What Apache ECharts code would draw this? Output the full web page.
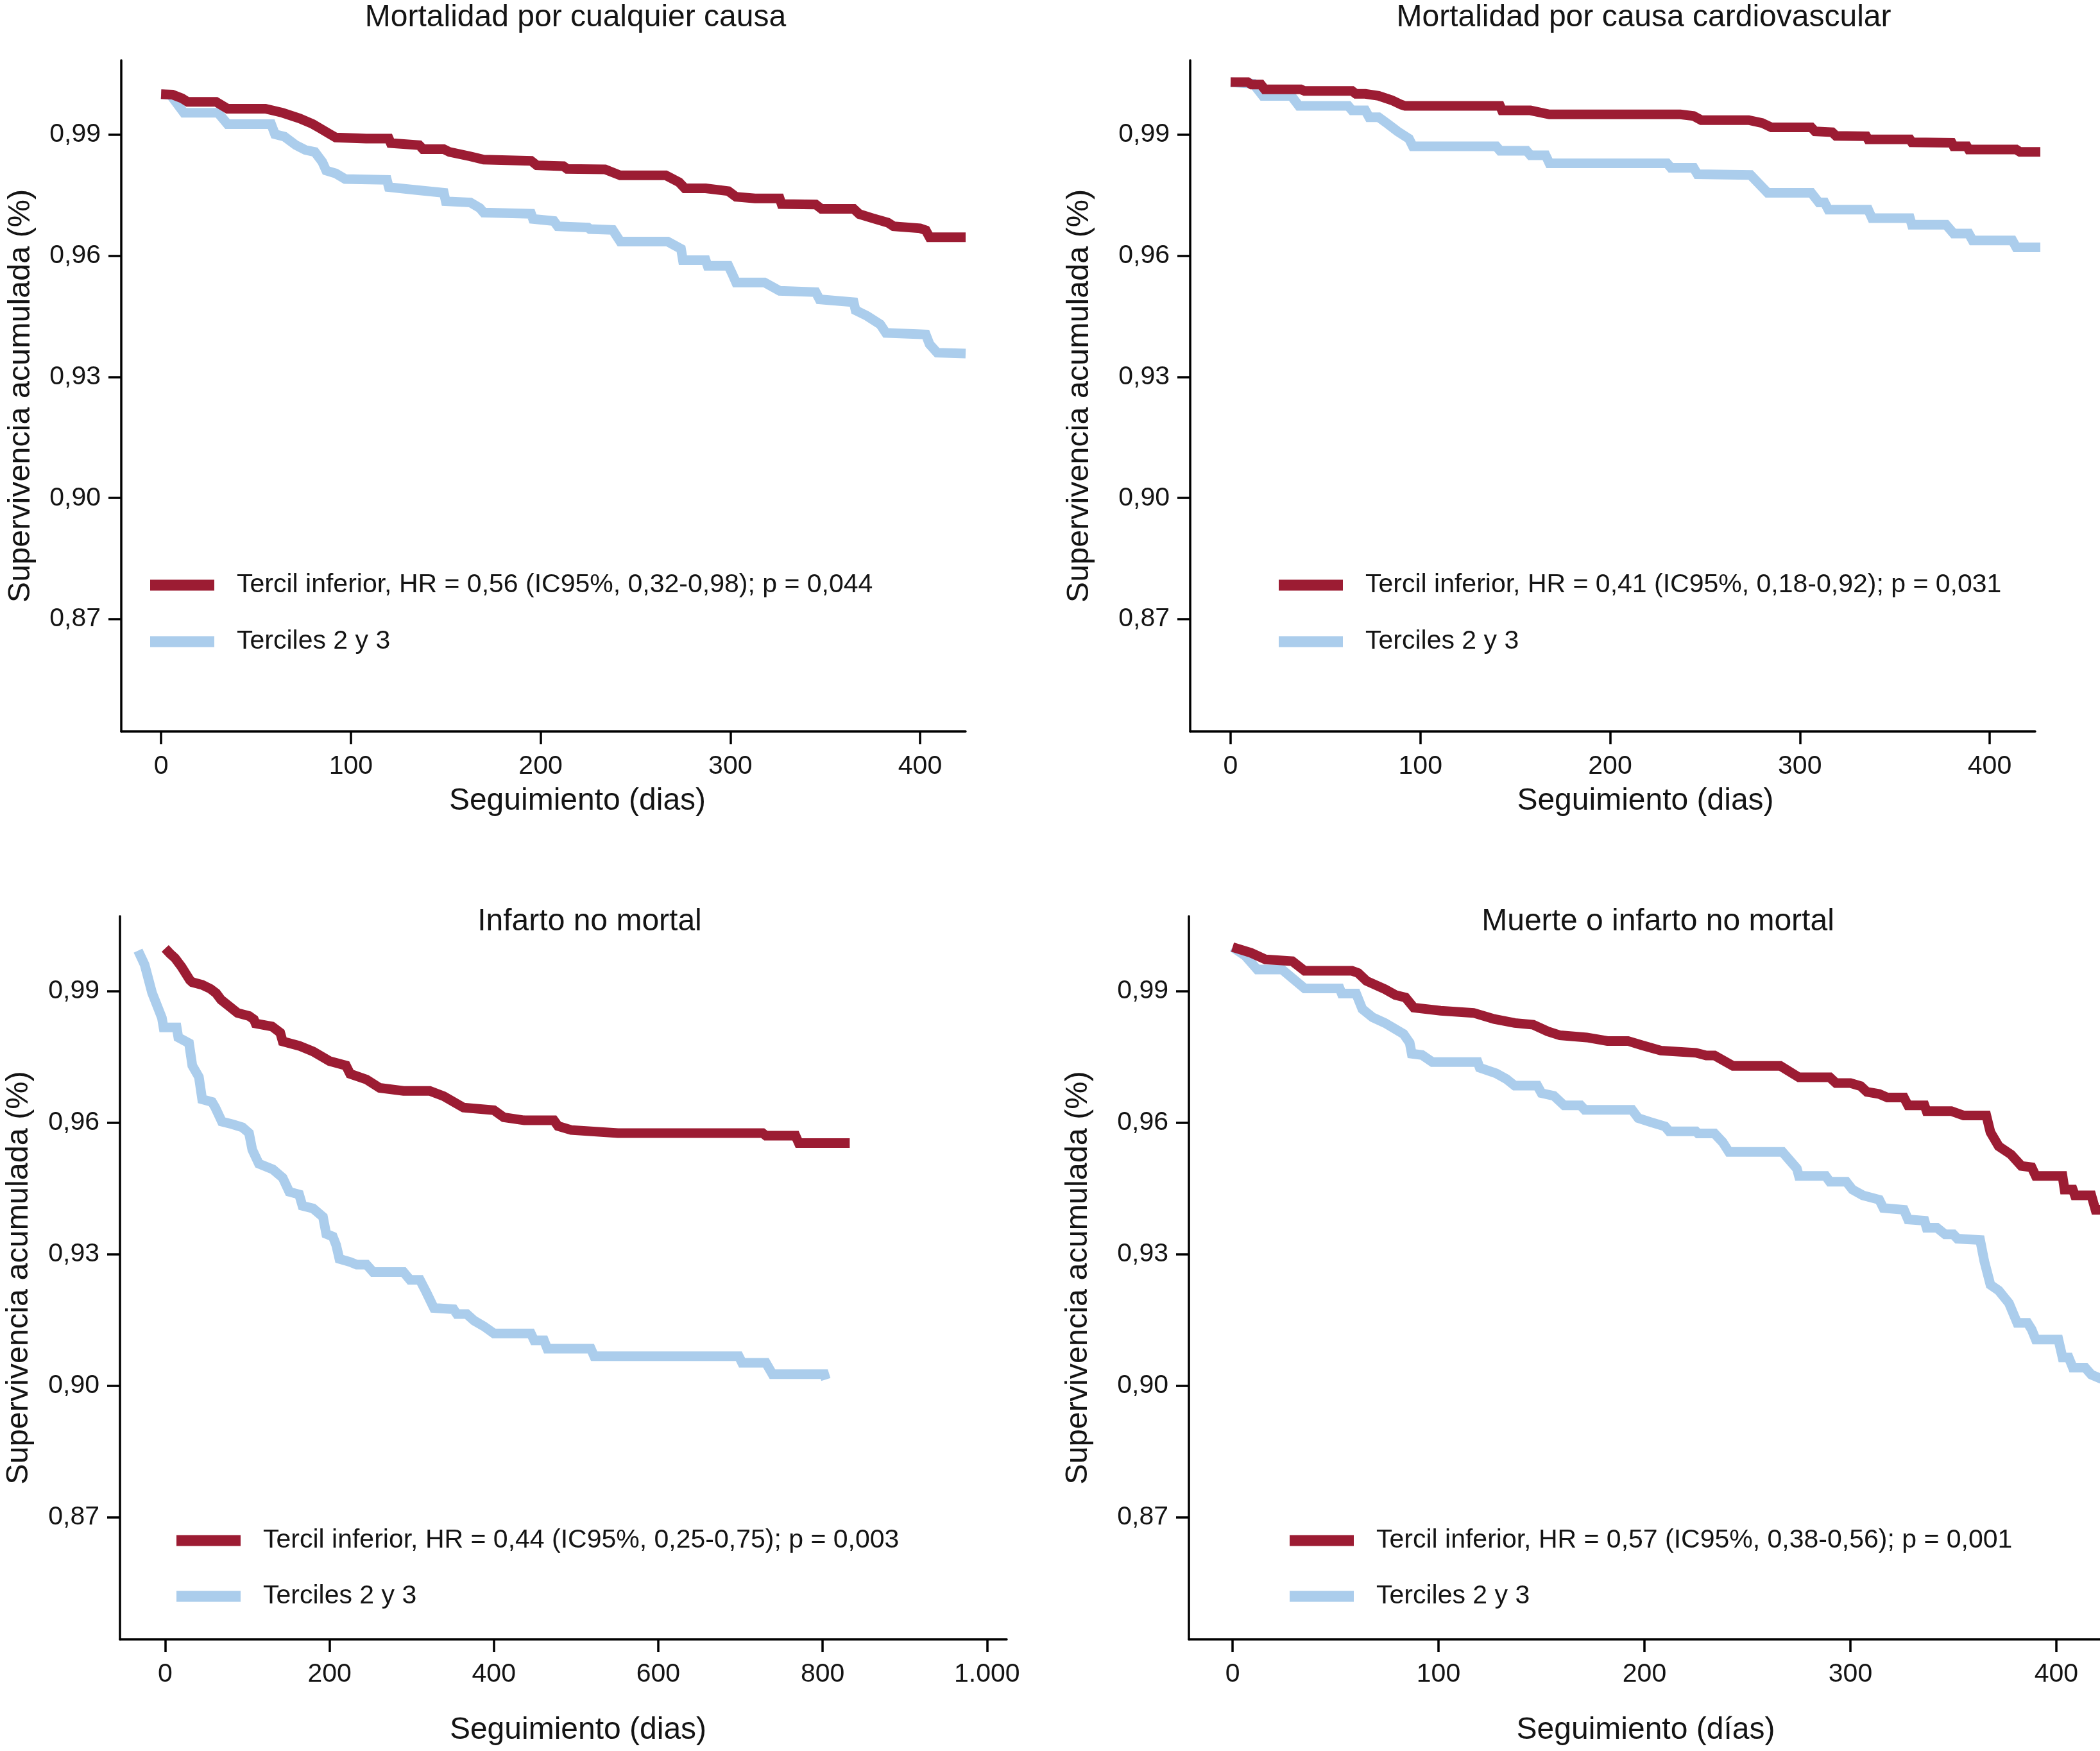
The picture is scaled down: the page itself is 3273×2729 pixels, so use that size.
<!DOCTYPE html>
<html>
<head>
<meta charset="utf-8">
<script src="https://cdn.jsdelivr.net/npm/echarts@6/dist/echarts.min.js"></script>
<style>
html,body{margin:0;padding:0;background:#fff;}
#chart{width:3273px;height:2729px;}
</style>
</head>
<body>
<div id="chart"></div>
<script>
// ---------- DATA (day, cumulative survival) ----------
const titles = ['Mortalidad por cualquier causa', 'Mortalidad por causa cardiovascular', 'Infarto no mortal', 'Muerte o infarto no mortal'];
const xNames = ['Seguimiento (dias)', 'Seguimiento (dias)', 'Seguimiento (dias)', 'Seguimiento (días)'];
const yName = 'Supervivencia acumulada (%)';
const lowNames = [
  'Tercil inferior, HR = 0,56 (IC95%, 0,32-0,98); p = 0,044',
  'Tercil inferior, HR = 0,41 (IC95%, 0,18-0,92); p = 0,031',
  'Tercil inferior, HR = 0,44 (IC95%, 0,25-0,75); p = 0,003',
  'Tercil inferior, HR = 0,57 (IC95%, 0,38-0,56); p = 0,001'
];
const restName = 'Terciles 2 y 3';
const yTicks = [0.87, 0.90, 0.93, 0.96, 0.99];
const xTicksShort = [0, 100, 200, 300, 400];
const xTicksLong = [0, 200, 400, 600, 800, 1000];

const allCauseLow = [[0,1.0000],[6,0.9999],[11,0.9990],[14,0.9981],[29,0.9981],[35,0.9964],[55,0.9964],[64,0.9954],[73,0.9940],[80,0.9926],[84,0.9915],[89,0.9901],[92,0.9893],[108,0.9890],[120,0.9890],[121,0.9879],[136,0.9874],[138,0.9864],[149,0.9864],[152,0.9857],[163,0.9846],[170,0.9838],[195,0.9835],[198,0.9824],[212,0.9822],[214,0.9815],[234,0.9814],[242,0.9799],[266,0.9799],[273,0.9782],[276,0.9767],[287,0.9767],[299,0.9760],[303,0.9746],[313,0.9742],[326,0.9742],[327,0.9728],[345,0.9727],[348,0.9716],[365,0.9716],[368,0.9703],[375,0.9693],[383,0.9682],[386,0.9673],[400,0.9668],[403,0.9663],[405,0.9646],[424,0.9646]];
const allCauseRest = [[0,1.0000],[5,0.9998],[12,0.9954],[30,0.9954],[35,0.9926],[58,0.9926],[60,0.9901],[65,0.9895],[71,0.9874],[76,0.9862],[81,0.9857],[85,0.9832],[87,0.9811],[92,0.9804],[97,0.9790],[119,0.9788],[120,0.9770],[134,0.9763],[149,0.9756],[150,0.9735],[163,0.9732],[168,0.9718],[170,0.9707],[195,0.9704],[196,0.9691],[207,0.9686],[209,0.9673],[225,0.9670],[226,0.9666],[238,0.9664],[242,0.9635],[267,0.9635],[274,0.9617],[275,0.9589],[287,0.9589],[288,0.9575],[299,0.9575],[301,0.9555],[303,0.9534],[318,0.9534],[326,0.9513],[345,0.9510],[347,0.9492],[365,0.9485],[366,0.9465],[372,0.9451],[379,0.9430],[382,0.9409],[403,0.9405],[405,0.9381],[409,0.9360],[424,0.9358]];

const cvLow = [[0,1.0030],[9,1.0030],[11,1.0024],[16,1.0024],[18,1.0012],[37,1.0012],[39,1.0008],[64,1.0008],[66,1.0001],[71,1.0001],[78,0.9996],[85,0.9985],[90,0.9974],[92,0.9971],[142,0.9971],[143,0.9960],[158,0.9960],[168,0.9950],[237,0.9950],[244,0.9946],[248,0.9936],[273,0.9936],[280,0.9929],[285,0.9918],[306,0.9918],[308,0.9908],[317,0.9906],[319,0.9897],[335,0.9896],[336,0.9888],[358,0.9888],[359,0.9881],[380,0.9880],[381,0.9871],[388,0.9871],[389,0.9863],[414,0.9863],[416,0.9857],[435,0.9857]];
const cvRest = [[0,1.0030],[12,1.0026],[17,0.9996],[32,0.9996],[36,0.9971],[62,0.9971],[64,0.9960],[71,0.9960],[73,0.9943],[78,0.9943],[83,0.9926],[88,0.9908],[94,0.9890],[96,0.9871],[140,0.9871],[142,0.9860],[156,0.9860],[158,0.9849],[166,0.9849],[168,0.9829],[230,0.9829],[232,0.9818],[244,0.9818],[246,0.9802],[274,0.9800],[283,0.9756],[306,0.9756],[310,0.9732],[313,0.9732],[315,0.9714],[336,0.9714],[338,0.9693],[358,0.9693],[359,0.9677],[377,0.9677],[381,0.9655],[389,0.9655],[391,0.9638],[412,0.9638],[414,0.9621],[435,0.9621]];

const miLow = [[0,0.9997],[6,0.9985],[12,0.9975],[20,0.9955],[30,0.9925],[33,0.9920],[45,0.9914],[55,0.9905],[62,0.9895],[68,0.9880],[78,0.9865],[88,0.9850],[102,0.9843],[108,0.9835],[110,0.9826],[130,0.9819],[140,0.9805],[143,0.9785],[163,0.9775],[180,0.9762],[200,0.9740],[220,0.9730],[225,0.9711],[245,0.9698],[261,0.9679],[290,0.9672],[322,0.9672],[339,0.9660],[363,0.9634],[400,0.9628],[412,0.9612],[437,0.9605],[473,0.9605],[478,0.9592],[494,0.9583],[551,0.9576],[727,0.9576],[731,0.9570],[767,0.9570],[771,0.9553],[833,0.9553]];
const miRest = [[-33,0.9992],[-25,0.9960],[-16,0.9896],[-8,0.9858],[-4,0.9839],[-2,0.9817],[14,0.9817],[16,0.9794],[29,0.9781],[33,0.9730],[41,0.9704],[45,0.9653],[57,0.9647],[61,0.9634],[69,0.9602],[82,0.9596],[94,0.9589],[102,0.9576],[106,0.9538],[114,0.9506],[131,0.9493],[143,0.9474],[151,0.9442],[163,0.9436],[167,0.9410],[180,0.9404],[192,0.9385],[196,0.9346],[204,0.9340],[208,0.9321],[212,0.9289],[225,0.9282],[233,0.9276],[245,0.9276],[253,0.9259],[290,0.9259],[298,0.9241],[310,0.9241],[318,0.9212],[327,0.9177],[351,0.9174],[355,0.9163],[367,0.9163],[376,0.9148],[388,0.9135],[400,0.9119],[445,0.9119],[449,0.9103],[461,0.9103],[465,0.9084],[518,0.9084],[522,0.9067],[698,0.9067],[702,0.9052],[731,0.9052],[739,0.9026],[802,0.9026],[804,0.9014]];

const compLow = [[0,1.0000],[9,0.9987],[16,0.9972],[29,0.9968],[35,0.9946],[58,0.9946],[61,0.9941],[65,0.9923],[74,0.9904],[79,0.9891],[84,0.9885],[88,0.9862],[101,0.9855],[117,0.9850],[127,0.9836],[137,0.9827],[146,0.9823],[153,0.9808],[159,0.9799],[172,0.9794],[182,0.9786],[192,0.9786],[199,0.9776],[208,0.9764],[225,0.9759],[230,0.9753],[234,0.9753],[243,0.9729],[266,0.9729],[275,0.9703],[290,0.9703],[293,0.9690],[300,0.9690],[305,0.9683],[308,0.9670],[314,0.9665],[318,0.9657],[326,0.9657],[328,0.9639],[336,0.9639],[337,0.9626],[349,0.9626],[355,0.9616],[366,0.9616],[368,0.9578],[372,0.9546],[378,0.9527],[383,0.9501],[388,0.9498],[390,0.9478],[403,0.9478],[404,0.9447],[408,0.9447],[409,0.9434],[417,0.9434],[419,0.9401],[422,0.9401]];
const compRest = [[0,1.0000],[6,0.9981],[12,0.9949],[24,0.9949],[35,0.9906],[52,0.9906],[53,0.9894],[60,0.9894],[63,0.9859],[68,0.9840],[74,0.9827],[83,0.9802],[86,0.9782],[87,0.9757],[92,0.9754],[97,0.9738],[119,0.9738],[120,0.9725],[128,0.9712],[133,0.9699],[137,0.9684],[148,0.9684],[150,0.9667],[156,0.9661],[161,0.9639],[169,0.9639],[171,0.9629],[194,0.9629],[197,0.9610],[203,0.9601],[210,0.9591],[212,0.9580],[225,0.9580],[226,0.9575],[234,0.9575],[238,0.9555],[241,0.9533],[267,0.9533],[274,0.9495],[275,0.9478],[288,0.9478],[290,0.9465],[298,0.9465],[301,0.9447],[306,0.9434],[314,0.9424],[316,0.9405],[326,0.9401],[328,0.9379],[336,0.9376],[337,0.9360],[342,0.9360],[346,0.9345],[350,0.9345],[352,0.9335],[363,0.9332],[365,0.9284],[368,0.9230],[372,0.9217],[377,0.9188],[381,0.9143],[386,0.9143],[388,0.9128],[390,0.9105],[401,0.9105],[403,0.9064],[406,0.9064],[408,0.9041],[414,0.9041],[417,0.9025],[422,0.9015]];

const lowSeries = [allCauseLow, cvLow, miLow, compLow];
const restSeries = [allCauseRest, cvRest, miRest, compRest];

// ---------- LAYOUT ----------
const FONT = '"Liberation Sans", Arial, Helvetica, sans-serif';
const RED = '#9c1c33';
const BLUE = '#abcdec';
const TXT = '#141414';
const LW = 15;
const panels = [
  {left:189, top:94, width:1316, height:1046, xmin:-21, xmax:424, ymin:0.8422, ymax:1.0084, xt:xTicksShort, titleX:897, titleY:3, xnGap:85, xnShift:53, ynGap:132, legL:234, legT:889, legGap:42},
  {left:1855, top:94, width:1317, height:1046, xmin:-21.3, xmax:424, ymin:0.8422, ymax:1.0084, xt:xTicksShort, titleX:2562, titleY:3, xnGap:85, xnShift:51, ynGap:148, legL:1993, legT:889, legGap:42},
  {left:187, top:1428, width:1382, height:1127, xmin:-55, xmax:1024, ymin:0.84212, ymax:1.00705, xt:xTicksLong, titleX:919, titleY:1412, xnGap:118, xnShift:23, ynGap:133, legL:275, legT:2378, legGap:41},
  {left:1853, top:1428, width:1420, height:1127, xmin:-21.2, xmax:421.2, ymin:0.84212, ymax:1.00705, xt:xTicksShort, titleX:2584, titleY:1412, xnGap:118, xnShift:2, ynGap:148, legL:2010, legT:2378, legGap:41}
];

const axisLineStyle = {color:'#000', width:3.5};
const option = {
  animation:false,
  backgroundColor:'#fff',
  title: panels.map((p,i)=>({
    text: titles[i], left:p.titleX, top:p.titleY, textAlign:'center', padding:0,
    textStyle:{fontFamily:FONT, fontSize:48, fontWeight:'normal', color:TXT, lineHeight:50}
  })),
  legend: panels.map((p,i)=>({
    orient:'vertical', left:p.legL, top:p.legT, itemWidth:100, itemHeight:17, itemGap:p.legGap,
    padding:0, icon:'rect', selectedMode:false,
    data:[lowNames[i], restName],
    textStyle:{fontFamily:FONT, fontSize:41, color:TXT, lineHeight:46, padding:[0,0,0,30]}
  })),
  grid: panels.map(p=>({left:p.left, top:p.top, width:p.width, height:p.height, containLabel:false, outerBoundsMode:'none'})),
  xAxis: panels.map((p,i)=>({
    type:'value', gridIndex:i, min:p.xmin, max:p.xmax,
    name: xNames[i], nameLocation:'middle', nameGap:p.xnGap,
    nameTextStyle:{fontFamily:FONT, fontSize:48, color:TXT, lineHeight:48, padding:[0,0,0,p.xnShift*2]},
    axisLine:{show:true, onZero:false, lineStyle:axisLineStyle},
    axisTick:{show:true, length:20, lineStyle:axisLineStyle, customValues:p.xt},
    axisLabel:{margin:34, fontFamily:FONT, fontSize:41, color:TXT, customValues:p.xt,
      formatter:v=>String(v).replace(/\B(?=(\d{3})+(?!\d))/g,'.')},
    splitLine:{show:false}
  })),
  yAxis: panels.map((p,i)=>({
    type:'value', gridIndex:i, min:p.ymin, max:p.ymax,
    name: yName, nameLocation:'middle', nameGap:p.ynGap, nameRotate:90,
    nameTextStyle:{fontFamily:FONT, fontSize:48.5, color:TXT, lineHeight:48},
    axisLine:{show:true, onZero:false, lineStyle:axisLineStyle},
    axisTick:{show:true, length:20, lineStyle:axisLineStyle, customValues:yTicks},
    axisLabel:{margin:32, fontFamily:FONT, fontSize:41, color:TXT, customValues:yTicks,
      formatter:v=>v.toFixed(2).replace('.', ',')},
    splitLine:{show:false}
  })),
  series: []
};
panels.forEach((p,i)=>{
  option.series.push({
    type:'line', name:restName, xAxisIndex:i, yAxisIndex:i, data:restSeries[i],
    showSymbol:false, symbol:'none', clip:false, color:BLUE,
    itemStyle:{color:BLUE}, lineStyle:{color:BLUE, width:LW, join:'miter', cap:'butt'}, z:2
  });
  option.series.push({
    type:'line', name:lowNames[i], xAxisIndex:i, yAxisIndex:i, data:lowSeries[i],
    showSymbol:false, symbol:'none', clip:false, color:RED,
    itemStyle:{color:RED}, lineStyle:{color:RED, width:LW, join:'miter', cap:'butt'}, z:3
  });
});
const chart = echarts.init(document.getElementById('chart'), null, {renderer:'canvas'});
chart.setOption(option);
</script>
</body>
</html>
